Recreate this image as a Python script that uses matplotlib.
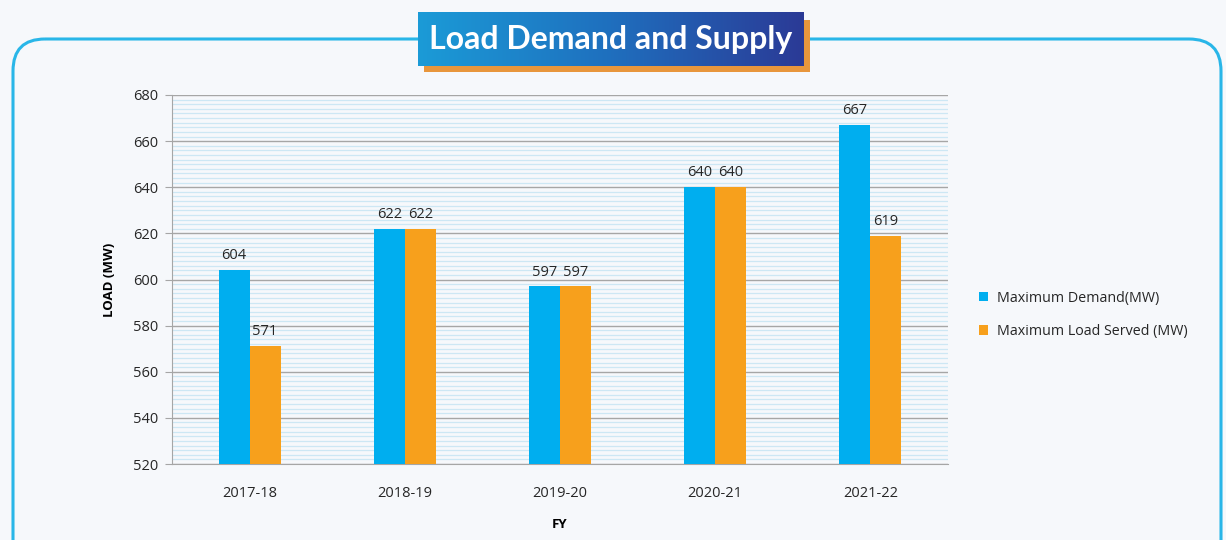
import numpy as np
from matplotlib import pyplot as plt
from matplotlib.patches import FancyBboxPatch, Rectangle
from matplotlib.colors import LinearSegmentedColormap

#%%  Data
years = ["2017-18", "2018-19", "2019-20", "2020-21", "2021-22"]
max_demand = [604, 622, 597, 640, 667]
max_served = [571, 622, 597, 640, 619]
series_names = ["Maximum Demand(MW)", "Maximum Load Served (MW)"]

blue = "#00aeef"
orange = "#f7a01c"
txt = "#262626"

#%%  Figure + background (pixel coordinates)
fig = plt.figure(figsize=(12.26, 5.4), dpi=100)
fig.patch.set_facecolor("#f6f8fb")

bg = fig.add_axes([0, 0, 1, 1])
bg.axis("off")
frame = FancyBboxPatch((13, 39), 1208, 540, boxstyle="round,pad=0,rounding_size=32",
                       fc="none", ec="#29b6e8", lw=2.2)
bg.add_patch(frame)

# title banner: orange shadow + blue gradient
bg.add_patch(Rectangle((424, 20), 386, 52, fc="#e8963c", ec="none", zorder=3))
grad = np.linspace(0, 1, 256).reshape(1, -1)
cm = LinearSegmentedColormap.from_list("ttl", ["#1b9bd7", "#1f6fbe", "#2b3a96"])
bg.imshow(grad, cmap=cm, extent=(418, 804, 66, 12), aspect="auto", zorder=4)
bg.set_xlim(0, 1226)
bg.set_ylim(540, 0)
bg.text(611, 40, "Load Demand and Supply", color="white", fontsize=23,
        fontweight="bold", family="Lato", ha="center", va="center", zorder=5)

#%%  Bar chart
ax = fig.add_axes([172/1226, 1-464/540, (948-172)/1226, (464-95)/540])
ax.set_facecolor("none")
x = np.arange(len(years))
w = 0.2
b1 = ax.bar(x - w/2, max_demand, w, color=blue, label=series_names[0], zorder=3)
b2 = ax.bar(x + w/2, max_served, w, color=orange, label=series_names[1], zorder=3)
for bars in (b1, b2):
    for r in bars:
        ax.text(r.get_x() + r.get_width()/2, r.get_height() + 3, f"{r.get_height():.0f}",
                ha="center", va="bottom", fontsize=10.5, color=txt, family="Open Sans")

ax.set_ylim(520, 680)
ax.set_xlim(-0.5, len(years) - 0.5)
ax.set_yticks(np.arange(520, 681, 20))
ax.set_yticks(np.arange(520, 681, 2), minor=True)
ax.grid(axis="y", which="major", color="#a6a6a6", lw=1, zorder=1)
ax.grid(axis="y", which="minor", color="#cde7f4", lw=0.9, zorder=0)
ax.set_xticks(x)
ax.set_xticklabels(years)
ax.tick_params(axis="x", length=0, pad=16)
ax.tick_params(axis="y", which="major", length=5, color="#a6a6a6", pad=5)
ax.tick_params(axis="y", which="minor", length=0)
for lab in ax.get_xticklabels() + ax.get_yticklabels():
    lab.set_family("Open Sans")
    lab.set_fontsize(10.5)
    lab.set_color(txt)
for s in ("top", "right"):
    ax.spines[s].set_visible(False)
ax.spines["left"].set_color("#a6a6a6")
ax.spines["bottom"].set_color("#a6a6a6")
ax.set_ylabel("LOAD (MW)", fontsize=9.5, fontweight="bold", family="Open Sans",
              color="black", labelpad=12)
ax.set_xlabel("FY", fontsize=9.5, fontweight="bold", family="Open Sans",
              color="black", labelpad=12)

leg = ax.legend(loc="center left", bbox_to_anchor=(966/1226, 1-315/540),
                bbox_transform=fig.transFigure, frameon=False,
                handlelength=0.65, handleheight=0.65, handletextpad=0.65,
                labelspacing=1.3, prop={"family": "Open Sans", "size": 10.3})
for t in leg.get_texts():
    t.set_color(txt)

fig.savefig("out.png", dpi=100, facecolor=fig.get_facecolor())
